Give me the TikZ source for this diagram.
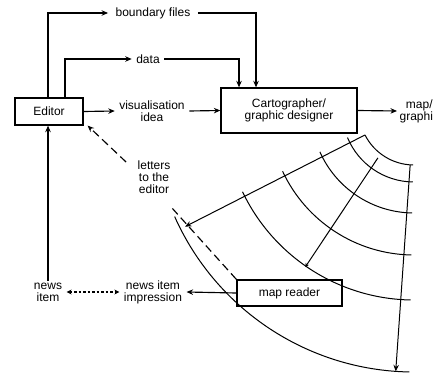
\documentclass[tikz,border=0pt]{standalone}
\usepackage{fontspec}
\setmainfont{Liberation Sans}
\usetikzlibrary{arrows.meta}
\begin{document}
\begin{tikzpicture}[x=1pt,y=1pt, line width=1.15pt,
  arr/.style={-{Stealth[length=6.5pt,width=5.5pt]}},
  darr/.style={{Stealth[length=5pt,width=5pt]}-{Stealth[length=5pt,width=5pt]}, dash pattern=on 2.5pt off 2pt},
  dsh/.style={dash pattern=on 8pt off 4.5pt},
  box/.style={draw, line width=1.3pt, font=\fontsize{12}{12.5}\selectfont, align=center, inner sep=1pt},
  lbl/.style={font=\fontsize{12}{12}\selectfont, align=center, inner xsep=4pt, inner ysep=1pt},
  fan/.style={line width=1pt}]
\useasboundingbox (0,0) rectangle (433,389);

% boxes
\node[box, minimum width=68, minimum height=27] (ed) at (49,277.5) {Editor};
\node[box, minimum width=136, minimum height=45] (ca) at (289,278.5) {Cartographer/\\graphic designer};
\node[box, minimum width=105, minimum height=26] (mr) at (289.5,96) {map reader};

% labels
\node[lbl, inner xsep=7pt] (bf) at (153,376) {boundary files};
\node[lbl] (da) at (148,330) {data};
\node[lbl] (vi) at (152,278) {visualisation\\idea};
\node[lbl, anchor=west, inner xsep=2pt] (mg) at (397,278) {map/\\graphic};
\node[lbl] (le) at (154,212) {letters\\to the\\editor};
\node[lbl] (ni) at (48,97) {news\\item};
\node[lbl] (nii) at (153,97) {news item\\impression};

% top connectors
\draw[arr] ([xshift=-1pt]ed.north) |- (bf.west);
\draw[arr] (bf.east) -| ([xshift=-33pt]ca.north);
\draw[arr] ([xshift=16pt]ed.north) |- (da.west);
\draw[arr] (da.east) -| ([xshift=-50pt]ca.north);
\draw[arr] (ed.east) -- (vi.west);
\draw[arr] (vi.east) -- (ca.west);
\draw[arr] (ca.east) -- (mg.west);

% lower connectors
\draw[arr] (ni.north) -- (ni.north |- ed.south);
\draw[darr] (ni.east) -- (nii.west);
\draw[arr] (mr.west) -- (nii.east);

% letters to the editor
\coordinate (dt) at (172,181);
\draw[dsh] (mr.north west) -- (dt);
\draw[dsh, arr] ([shift={(-7pt,-3pt)}]le.north west) -- ([xshift=4pt]ed.south east);

% fan
\begin{scope}[shift={(414,279)}, fan]
  \foreach \r/\a in {55/207, 72/202.5, 103/204, 145/205, 190/205.5, 262/204}
    \draw (\a:\r) arc[start angle=\a, end angle=269, radius=\r];
  \draw[arr] (207:55) -- (207:257);
  \draw[arr] (266:55) -- (266:262);
  \coordinate (fa) at (233:60);
  \coordinate (fb) at (235.3:191);
\end{scope}
\draw[fan, -{Stealth[length=4pt,width=4pt]}] (fa) -- (fb);
\end{tikzpicture}
\end{document}
